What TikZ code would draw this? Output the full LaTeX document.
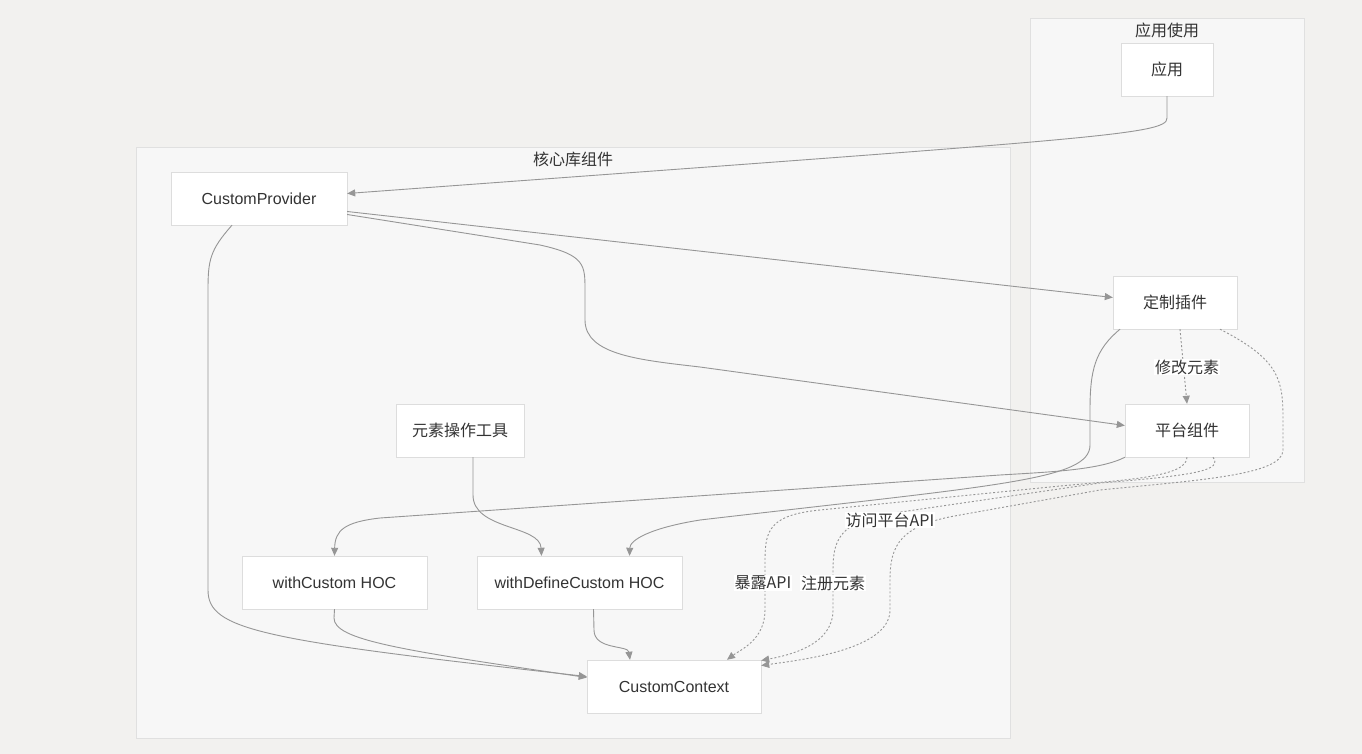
\documentclass[tikz,border=0pt]{standalone}
\usepackage{fontspec}
\setmainfont{Liberation Sans}
\newfontfamily\cjk{Noto Sans CJK SC}
\usetikzlibrary{arrows.meta}

\definecolor{bgc}{RGB}{242,241,239}
\definecolor{clfill}{RGB}{247,247,247}
\definecolor{clline}{RGB}{224,224,224}
\definecolor{boxline}{RGB}{221,221,221}
\definecolor{edgec}{RGB}{150,150,150}
\definecolor{txt}{RGB}{51,51,51}

\begin{document}
\begin{tikzpicture}[x=1pt, y=-1pt,
	font=\fontsize{16}{19}\selectfont, text=txt,
	box/.style={draw=boxline, fill=white, minimum height=53pt, inner sep=0pt},
	cluster/.style={draw=clline, fill=clfill},
	lbl/.style={fill=white, inner sep=1pt},
	arr/.style={draw=edgec, line width=0.9pt, -{Triangle[length=8pt,width=7pt]}},
	dasharr/.style={arr, dash pattern=on 2pt off 2pt}]

	\useasboundingbox[fill=bgc] (0,0) rectangle (1362,754);

	% clusters
	\draw[cluster] (136,147) rectangle (1010,738);
	\draw[cluster] (1030,18) rectangle (1304,482);
	\node	(core)	at (573,159)	{\cjk 核心库组件};
	\node	(use)	at (1167,30)	{\cjk 应用使用};

	% nodes
	\node[box, minimum width=92pt]	(app)		at (1167,69.5)	{\cjk 应用};
	\node[box, minimum width=176pt]	(provider)	at (259,198.5)	{CustomProvider};
	\node[box, minimum width=124pt]	(plugin)	at (1175,302.5)	{\cjk 定制插件};
	\node[box, minimum width=124pt]	(platform)	at (1187,430.5)	{\cjk 平台组件};
	\node[box, minimum width=128pt]	(tools)		at (460,430.5)	{\cjk 元素操作工具};
	\node[box, minimum width=185pt]	(withc)		at (334.5,582.5)	{withCustom HOC};
	\node[box, minimum width=205pt]	(withdc)	at (579.5,582.5)	{withDefineCustom HOC};
	\node[box, minimum width=174pt]	(ctx)		at (674,686.5)	{CustomContext};

	% solid edges
	\draw[arr] (app.south) -- (1167,118) .. controls (1167,135) and (1100,138) .. ([yshift=5pt]provider.east);
	\draw[arr] ([yshift=-13pt]provider.east) -- ([yshift=5pt]plugin.west);
	\draw[arr] ([yshift=-16pt]provider.east) -- (540,245) .. controls (585,255) and (585,265) .. (585,290)
		-- (585,320) .. controls (585,355) and (640,360) .. (700,367) -- ([yshift=5pt]platform.west);
	\draw[arr] ([xshift=-27pt]provider.south) .. controls (210,250) and (208,260) .. (208,290)
		-- (208,590) .. controls (208,630) and (260,640) .. ([yshift=10pt]ctx.west);
	\draw[arr] ([xshift=-55pt]plugin.south) .. controls (1095,350) and (1090,370) .. (1090,410)
		-- (1090,445) .. controls (1090,480) and (1000,485) .. (700,520)
		.. controls (650,528) and (630,540) .. ([xshift=50pt]withdc.north);
	\draw[arr] ([xshift=-62pt]platform.south) .. controls (1100,470) and (1050,472) .. (1000,475)
		-- (380,518) .. controls (345,522) and (335,530) .. (withc.north);
	\draw[arr] ([xshift=13pt]tools.south) -- (473,495) .. controls (473,530) and (540,525) .. ([xshift=-38pt]withdc.north);
	\draw[arr] (withc.south) -- (334,618) .. controls (334,640) and (400,650) .. ([yshift=9pt]ctx.west);
	\draw[arr] ([xshift=14pt]withdc.south) -- (594,630) .. controls (594,650) and (628,645) .. ([xshift=-44pt]ctx.north);

	% dashed edges
	\draw[dasharr] ([xshift=5pt]plugin.south) -- (platform.north);
	\node[lbl] (modify) at (1187,367) {\cjk 修改元素};
	\draw[dasharr] (platform.south) .. controls (1187,478) and (1120,480) .. (1050,487)
		-- (820,510) .. controls (770,515) and (765,530) .. (765,560)
		-- (765,610) .. controls (765,640) and (740,650) .. ([xshift=53pt]ctx.north);
	\draw[dasharr] ([xshift=26pt]platform.south) .. controls (1222,470) and (1200,475) .. (1100,483)
		-- (880,515) .. controls (840,525) and (833,540) .. (833,570)
		-- (833,610) .. controls (833,645) and (790,655) .. ([yshift=26pt]ctx.east);
	\draw[dasharr] ([xshift=45pt]plugin.south) .. controls (1280,360) and (1283,380) .. (1283,420)
		-- (1283,450) .. controls (1283,475) and (1200,480) .. (1100,490)
		-- (960,515) .. controls (900,525) and (890,545) .. (890,580)
		-- (890,610) .. controls (890,650) and (800,660) .. ([yshift=21pt]ctx.east);
	\node[lbl] (expose)	at (763,583)	{\cjk 暴露API};
	\node[lbl] (reg)	at (833,583)	{\cjk 注册元素};
	\node[lbl] (access)	at (890,520)	{\cjk 访问平台API};
\end{tikzpicture}
\end{document}
